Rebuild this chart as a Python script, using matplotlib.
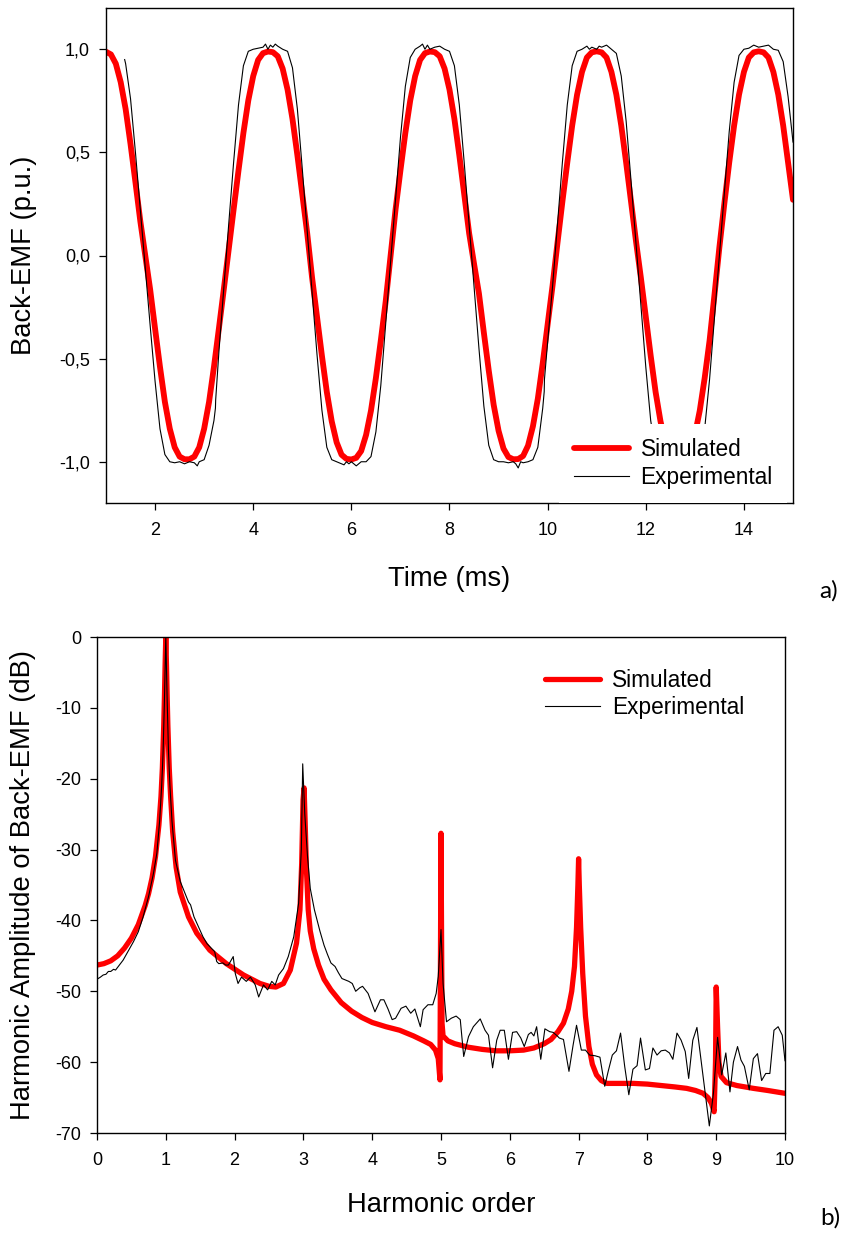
import matplotlib.pyplot as plt
import numpy as np
from matplotlib.ticker import FuncFormatter

plt.rcParams['font.family'] = ['Liberation Sans', 'DejaVu Sans']
plt.rcParams['axes.unicode_minus'] = False

# ---- a) back-EMF waveform ----
# simulated, one value every 0.1 ms from 1.0 to 15.0 ms
sim_emf = [
    0.988, 0.975, 0.93, 0.84, 0.71, 0.54, 0.355, 0.165, 0.0, -0.165,
    -0.355, -0.54, -0.71, -0.84, -0.93, -0.975, -0.988, -0.988, -0.975, -0.93,
    -0.84, -0.71, -0.54, -0.355, -0.165, 0.03, 0.222, 0.412, 0.594, 0.752,
    0.87, 0.948, 0.981, 0.989, 0.986, 0.966, 0.906, 0.804, 0.662, 0.486,
    0.298, 0.108, -0.108, -0.298, -0.486, -0.662, -0.804, -0.906, -0.966, -0.986,
    -0.989, -0.981, -0.948, -0.87, -0.752, -0.594, -0.412, -0.222, 0.0, 0.222,
    0.412, 0.594, 0.752, 0.87, 0.948, 0.981, 0.989, 0.986, 0.966, 0.906,
    0.804, 0.662, 0.486, 0.298, 0.108, -0.04, -0.184, -0.374, -0.558, -0.724,
    -0.85, -0.936, -0.977, -0.988, -0.987, -0.972, -0.922, -0.828, -0.694, -0.522,
    -0.336, -0.146, 0.06, 0.26, 0.45, 0.63, 0.78, 0.89, 0.96, 0.985,
    0.99, 0.985, 0.96, 0.89, 0.78, 0.63, 0.45, 0.26, 0.07, -0.108,
    -0.298, -0.486, -0.662, -0.804, -0.906, -0.966, -0.986, -0.989, -0.981, -0.948,
    -0.87, -0.752, -0.594, -0.412, -0.19, 0.04, 0.25, 0.45, 0.63, 0.78,
    0.89, 0.96, 0.985, 0.99, 0.985, 0.96, 0.89, 0.78, 0.63, 0.45,
    0.27,
]
sim_time = np.linspace(1.0, 15.0, len(sim_emf))

exp_time = [
    1.38, 1.4, 1.5, 1.6, 1.7, 1.8, 1.9, 2.0, 2.1, 2.2, 2.3, 2.4, 2.5, 2.6, 2.7,
    2.8, 2.86, 2.9, 3.0, 3.1, 3.2, 3.23, 3.235, 3.3, 3.4, 3.5, 3.6, 3.7, 3.8, 3.9,
    4.0, 4.1, 4.2, 4.25, 4.3, 4.35, 4.4, 4.45, 4.5, 4.6, 4.7, 4.8, 4.9, 5.0, 5.1,
    5.2, 5.3, 5.4, 5.5, 5.6, 5.7, 5.8, 5.85, 5.9, 5.95, 6.0, 6.1, 6.2, 6.3, 6.4,
    6.5, 6.6, 6.7, 6.8, 6.9, 7.0, 7.1, 7.2, 7.3, 7.4, 7.45, 7.5, 7.55, 7.6, 7.7,
    7.8, 7.9, 8.0, 8.1, 8.2, 8.3, 8.4, 8.5, 8.6, 8.7, 8.8, 8.9, 9.0, 9.1, 9.2,
    9.3, 9.35, 9.4, 9.45, 9.5, 9.6, 9.7, 9.8, 9.9, 9.93, 9.935, 10.0, 10.1, 10.2, 10.3,
    10.4, 10.5, 10.6, 10.7, 10.8, 10.85, 10.9, 11.0, 11.05, 11.1, 11.2, 11.3, 11.4, 11.5, 11.6,
    11.7, 11.8, 11.9, 12.0, 12.1, 12.2, 12.3, 12.4, 12.5, 12.6, 12.7, 12.8, 12.9, 13.0, 13.1,
    13.2, 13.3, 13.4, 13.5, 13.6, 13.7, 13.8, 13.9, 14.0, 14.1, 14.2, 14.3, 14.4, 14.5, 14.6,
    14.7, 14.8, 14.9, 15.0,
]
exp_emf = [
    0.95, 0.93, 0.76, 0.50, 0.22, -0.06, -0.34, -0.61, -0.84, -0.965, -1.0, -1.005, -1.0, -1.01, -1.0,
    -1.005, -1.02, -1.0, -0.99, -0.92, -0.80, -0.74, -0.70, -0.47, -0.16, 0.15, 0.45, 0.73, 0.92, 0.99,
    1.0, 1.005, 1.01, 1.025, 1.0, 1.02, 1.01, 1.025, 1.015, 1.0, 0.99, 0.91, 0.71, 0.42, 0.12,
    -0.18, -0.48, -0.75, -0.93, -0.99, -1.0, -1.01, -1.015, -1.0, -1.01, -1.0, -1.02, -1.0, -1.0, -0.975,
    -0.855, -0.63, -0.33, -0.03, 0.27, 0.57, 0.82, 0.96, 1.0, 1.015, 1.025, 1.0, 1.02, 1.0, 1.01,
    1.015, 1.0, 0.99, 0.92, 0.73, 0.45, 0.15, -0.15, -0.45, -0.73, -0.92, -0.99, -1.0, -1.0, -1.005,
    -1.0, -1.01, -1.03, -1.0, -1.005, -1.0, -0.99, -0.93, -0.74, -0.66, -0.60, -0.42, -0.15, 0.15, 0.45,
    0.73, 0.92, 0.99, 1.0, 1.015, 1.0, 1.01, 1.0, 1.015, 1.01, 1.02, 1.0, 0.98, 0.87, 0.65,
    0.36, 0.06, -0.24, -0.54, -0.80, -0.95, -0.995, -1.0, -1.0, -1.01, -1.0, -1.0, -1.0, -1.0, -0.97,
    -0.84, -0.60, -0.30, 0.0, 0.30, 0.60, 0.84, 0.97, 1.0, 1.005, 1.02, 1.01, 1.015, 1.02, 1.0,
    0.995, 0.94, 0.77, 0.55,
]

# ---- b) harmonic spectrum (dB) ----
sim_order = [
    0.00, 0.10, 0.20, 0.30, 0.40, 0.50, 0.60, 0.70, 0.75, 0.80, 0.85, 0.90, 0.93, 0.95, 0.97,
    0.98, 0.99, 1.00, 1.01, 1.02, 1.03, 1.05, 1.07, 1.10, 1.15, 1.21, 1.33, 1.45, 1.64, 1.88,
    2.13, 2.37, 2.50, 2.60, 2.71, 2.81, 2.90, 2.95, 2.975, 2.995, 3.01, 3.025, 3.045, 3.07, 3.10,
    3.15, 3.22, 3.30, 3.40, 3.55, 3.70, 3.85, 4.00, 4.20, 4.40, 4.60, 4.75, 4.85, 4.92, 4.96,
    4.985, 5.00, 5.015, 5.03, 5.10, 5.20, 5.40, 5.60, 5.80, 6.00, 6.20, 6.35, 6.50, 6.60, 6.70,
    6.78, 6.85, 6.90, 6.94, 6.97, 6.99, 7.00, 7.01, 7.03, 7.06, 7.10, 7.15, 7.20, 7.26, 7.33,
    7.41, 7.60, 7.80, 8.00, 8.20, 8.40, 8.57, 8.70, 8.81, 8.88, 8.93, 8.97, 8.99, 9.00, 9.02,
    9.04, 9.07, 9.15, 9.30, 9.54, 9.75, 10.00,
]
sim_db = [
    -46.3, -46.1, -45.7, -45.0, -43.9, -42.5, -40.6, -37.9, -36.2, -34.0, -31.0, -26.5, -22.5, -18.5, -12.5,
    -8.5, -4.0, 0.0, -4.0, -8.5, -12.5, -18.5, -22.5, -27.5, -32.5, -36.0, -39.5, -41.8, -44.2, -46.1,
    -47.7, -48.9, -49.3, -49.4, -48.9, -47.0, -43.2, -38.5, -32.0, -23.0, -21.3, -26.0, -33.0, -38.5, -41.5,
    -44.0, -46.3, -48.3, -49.8, -51.6, -52.8, -53.7, -54.4, -55.0, -55.5, -56.3, -57.0, -57.5, -58.3, -59.5,
    -62.5, -27.7, -54.5, -56.3, -57.0, -57.4, -57.9, -58.2, -58.4, -58.4, -58.3, -58.0, -57.4, -56.8, -55.7,
    -54.5, -52.5, -50.0, -46.5, -41.0, -35.0, -31.3, -35.0, -41.0, -47.5, -53.5, -57.8, -60.3, -61.8, -62.6,
    -63.0, -63.0, -63.0, -63.1, -63.3, -63.5, -63.7, -64.0, -64.4, -65.0, -65.8, -67.0, -60.0, -49.4, -55.0,
    -60.0, -62.0, -62.9, -63.3, -63.7, -64.0, -64.4,
]

exp_order = [
    0.00, 0.05, 0.09, 0.13, 0.165, 0.20, 0.24, 0.27, 0.31, 0.38, 0.45, 0.53, 0.60, 0.67, 0.75,
    0.82, 0.87, 0.91, 0.94, 0.96, 0.98, 1.00, 1.02, 1.04, 1.06, 1.09, 1.14, 1.21, 1.28, 1.33,
    1.36, 1.41, 1.47, 1.54, 1.60, 1.64, 1.71, 1.74, 1.77, 1.83, 1.87, 1.91, 1.95, 1.98, 2.01,
    2.05, 2.10, 2.17, 2.23, 2.30, 2.35, 2.42, 2.48, 2.54, 2.59, 2.64, 2.71, 2.78, 2.86, 2.93,
    2.97, 2.99, 3.02, 3.06, 3.10, 3.16, 3.24, 3.30, 3.35, 3.40, 3.46, 3.51, 3.56, 3.61, 3.66,
    3.71, 3.76, 3.82, 3.86, 3.94, 4.04, 4.12, 4.17, 4.23, 4.29, 4.34, 4.42, 4.49, 4.56, 4.62,
    4.70, 4.74, 4.81, 4.88, 4.93, 4.96, 5.00, 5.03, 5.08, 5.15, 5.22, 5.28, 5.33, 5.40, 5.47,
    5.57, 5.64, 5.69, 5.75, 5.81, 5.86, 5.92, 5.98, 6.04, 6.10, 6.16, 6.21, 6.27, 6.31, 6.35,
    6.39, 6.45, 6.51, 6.58, 6.63, 6.69, 6.72, 6.78, 6.86, 6.92, 6.97, 7.04, 7.10, 7.16, 7.24,
    7.31, 7.38, 7.43, 7.49, 7.55, 7.61, 7.67, 7.73, 7.79, 7.85, 7.90, 7.97, 8.03, 8.08, 8.14,
    8.20, 8.26, 8.32, 8.37, 8.43, 8.49, 8.55, 8.60, 8.66, 8.72, 8.78, 8.84, 8.90, 8.96, 9.02,
    9.08, 9.14, 9.20, 9.25, 9.31, 9.36, 9.41, 9.48, 9.54, 9.60, 9.66, 9.72, 9.78, 9.84, 9.90,
    9.96, 10.00,
]
exp_db = [
    -48.3, -48.0, -47.7, -47.6, -47.2, -47.2, -46.9, -47.0, -46.5, -45.6, -44.4, -43.0, -41.6, -39.5, -36.6,
    -33.4, -30.5, -26.0, -21.0, -16.5, -9.0, 0.0, -9.0, -16.5, -21.0, -26.0, -31.5, -34.5, -36.2, -37.4,
    -37.8, -39.5, -40.8, -42.3, -43.3, -43.7, -44.4, -45.8, -46.1, -46.0, -46.3, -46.3, -45.6, -45.1, -47.5,
    -48.9, -48.0, -48.6, -48.0, -49.1, -50.8, -49.1, -49.8, -48.6, -49.1, -47.7, -46.8, -45.1, -42.3, -37.6,
    -30.0, -17.9, -25.0, -31.0, -35.5, -38.5, -41.5, -43.5, -44.8, -46.0, -46.5, -47.4, -48.2, -48.4, -48.6,
    -48.9, -50.0, -49.5, -49.3, -50.3, -52.9, -51.2, -51.2, -52.5, -54.0, -53.8, -52.4, -52.1, -53.1, -52.5,
    -55.0, -52.6, -51.9, -51.9, -50.3, -47.9, -41.3, -48.9, -54.3, -53.8, -53.5, -54.0, -59.2, -56.4, -55.0,
    -53.9, -55.5, -56.2, -60.8, -56.9, -55.5, -55.5, -59.6, -55.8, -55.7, -56.6, -57.8, -56.1, -55.8, -56.3,
    -55.0, -59.6, -55.3, -55.7, -55.8, -56.3, -56.6, -56.8, -61.3, -57.6, -54.8, -58.3, -58.3, -59.0, -59.1,
    -59.3, -63.4, -61.3, -59.0, -58.4, -55.9, -60.6, -64.6, -61.0, -60.5, -56.6, -61.1, -60.9, -58.0, -59.0,
    -58.4, -58.3, -58.7, -59.6, -55.9, -56.9, -58.5, -62.3, -56.9, -55.1, -59.7, -64.4, -69.0, -64.4, -56.5,
    -61.8, -58.7, -64.2, -60.0, -57.8, -59.7, -60.6, -63.9, -59.5, -58.8, -62.6, -61.6, -61.6, -55.5, -55.0,
    -56.2, -59.8,
]

fig = plt.figure(figsize=(8.45, 12.37), dpi=100)

# top panel
ax1 = fig.add_axes([106 / 845, 1 - 503 / 1237, 687 / 845, 495 / 1237])
ax1.plot(sim_time, sim_emf, color='red', lw=4.2, solid_joinstyle='round',
         solid_capstyle='round', label='Simulated')
ax1.plot(exp_time, exp_emf, color='black', lw=0.8, label='Experimental')
ax1.set_xlim(1, 15)
ax1.set_ylim(-1.2, 1.2)
ax1.set_xticks(range(2, 15, 2))
ax1.set_yticks([-1.0, -0.5, 0.0, 0.5, 1.0])
ax1.yaxis.set_major_formatter(FuncFormatter(lambda v, p: f'{v:.1f}'.replace('.', ',')))
ax1.set_xlabel('Time (ms)', fontsize=19.7)
ax1.set_ylabel('Back-EMF (p.u.)', fontsize=19.7)
ax1.xaxis.set_label_coords(0.5, -0.128)
ax1.yaxis.set_label_coords(-0.101, 0.5)
ax1.legend(loc='lower right', bbox_to_anchor=(1 - 6 / 687, 0), borderaxespad=0,
           fontsize=16.3, handlelength=2.43, handletextpad=0.52, labelspacing=0.2,
           borderpad=0.63, fancybox=False, framealpha=1, facecolor='white',
           edgecolor='none')

# bottom panel
ax2 = fig.add_axes([97 / 845, 1 - 1133 / 1237, 688 / 845, 496 / 1237])
ax2.plot(sim_order, sim_db, color='red', lw=3.8, solid_joinstyle='round',
         solid_capstyle='round', label='Simulated')
ax2.plot(exp_order, exp_db, color='black', lw=0.8, label='Experimental')
ax2.set_xlim(0, 10)
ax2.set_ylim(-70, 0)
ax2.set_xticks(range(0, 11))
ax2.set_yticks(range(-70, 1, 10))
ax2.set_xlabel('Harmonic order', fontsize=19.7)
ax2.set_ylabel('Harmonic Amplitude of Back-EMF (dB)', fontsize=19.7)
ax2.xaxis.set_label_coords(0.5, -0.119)
ax2.yaxis.set_label_coords(-0.089, 0.5)
ax2.legend(loc='upper right', bbox_to_anchor=(0.9535, 0.954), borderaxespad=0,
           fontsize=16.3, handlelength=2.43, handletextpad=0.52, labelspacing=0.2,
           frameon=False)

for ax in (ax1, ax2):
    for s in ax.spines.values():
        s.set_linewidth(1.0)
        s.set_color('black')
    ax.tick_params(axis='both', direction='out', length=5, width=0.9, labelsize=13)
    ax.tick_params(axis='x', pad=9)
    ax.tick_params(axis='y', pad=6.5)

fig.text(838 / 845, 1 - 591 / 1237, 'a)', family=['Lato', 'DejaVu Sans'], fontsize=17.5,
         ha='right', va='center')
fig.text(840 / 845, 1 - 1218 / 1237, 'b)', family=['Lato', 'DejaVu Sans'], fontsize=17.5,
         ha='right', va='center')

fig.savefig('out.png', dpi=100)
